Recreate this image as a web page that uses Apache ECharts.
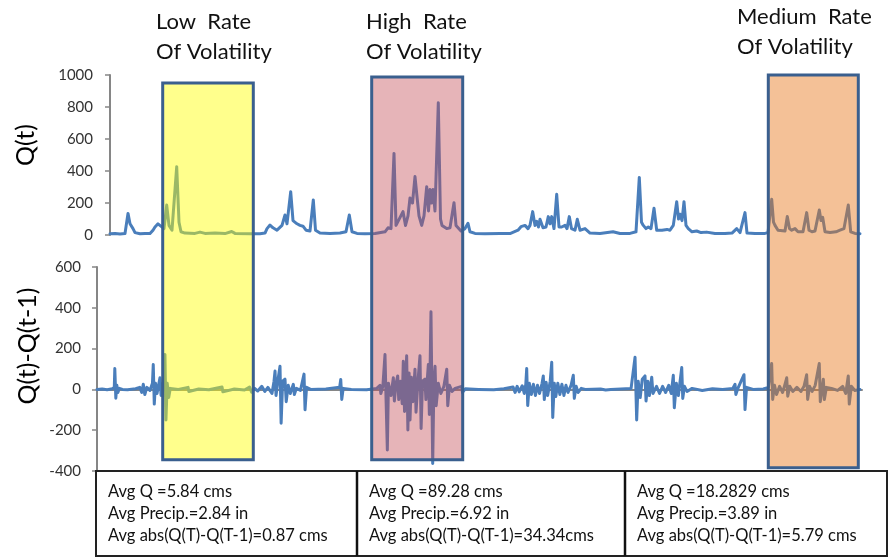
<!DOCTYPE html>
<html>
<head>
<meta charset="utf-8">
<script src="https://cdn.jsdelivr.net/npm/echarts@6/dist/echarts.min.js"></script>
<style>html,body{margin:0;padding:0;background:#fff;}#c{width:891px;height:558px;}</style>
</head>
<body>
<div id="c"></div>
<script>
// Q(t) series: [time, value]
const qSeries = [
[0,8],[5,10],[10,6],[15,9],[16,12],[18,135],[20,70],[23,40],[25,15],[30,8],[35,10],[40,9],
[43,30],[45,50],[48,70],[50,60],[54,40],[56.7,187],[59,60],[62,30],[64,40],[66.7,427],[69,80],[71,20],
[75,12],[85,10],[90,18],[95,10],[105,12],[115,9],[121.7,22],[125,10],[140,8],[150,8],[155,12],
[157,40],[160,62],[163,45],[167,30],[172,60],[175,125],[177,70],[180.7,271],[183,90],[187,70],[190,60],
[193,55],[196,30],[200,25],[203.3,219],[205.5,30],[210,12],[220,10],[230,12],[236,20],[239.3,125],[242,20],
[247,10],[255,8],[265,10],[275,20],[278,45],[281,40],[284,510],[286,60],[288,70],[293,146],[295.5,60],
[298,120],[300,231],[302.5,200],[305,365],[307,240],[309,120],[311.7,60],[314,120],[316.7,302],[318.5,150],
[320,285],[321.5,200],[323,285],[325,150],[328.3,827],[330.5,100],[332,60],[336.7,40],[340,45],[344,202],
[346,60],[348,50],[351,25],[355,40],[358,73],[360,20],[365,10],[375,8],[390,10],[400,9],
[408,30],[411,52],[415,60],[418,40],[420,60],[422.7,146],[425,60],[426.7,85],[428.5,50],[430,98],[433,45],
[436,50],[438.3,115],[440,70],[441.7,115],[444,40],[446.7,254],[449,50],[451.7,50],[455,60],[457,40],
[459.3,115],[461.5,40],[465,30],[467.3,98],[470,30],[475,40],[480,12],[490,10],[503,20],[510,9],[520,10],
[526,20],[529.3,360],[531.5,80],[533.3,60],[536,40],[538.3,50],[541,40],[544,167],[546.7,30],[552,30],
[557,35],[560,30],[563.3,60],[566.7,208],[568.5,100],[570,130],[572,90],[574,208],[576,60],[578.3,40],
[582,20],[586.7,25],[591,15],[596.7,18],[605,10],[615,9],[622,12],[626.7,40],[630,15],[635,140],[637,12],
[645,9],[655,10],[658,15],[661.7,223],[663.5,80],[665,60],[668,30],[670,20],[675,25],[677.3,115],[679.5,40],
[681.7,30],[685,40],[688,20],[693,20],[696.7,140],[699,30],[702,20],[705,25],[709.3,156],[711,90],[712.7,110],
[715,20],[720,15],[726,20],[730,30],[734,40],[738.3,187],[740.7,20],[745,10],[750,8]
];
// Q(t)-Q(t-1) series: [time, value]
const dSeries = [
[0,0],[5,2],[10,-2],[15,3],[17,10],[17.5,102],[18.5,-43],[19.5,20],[20.5,-15],[22,5],[25,0],[30,-2],[38,3],
[42,10],[44,-15],[45.5,25],[47,-25],[49,10],[52,-5],[54.5,30],[55.3,122],[56.3,-72],[57.5,30],[59,-20],
[61.9,57],[63,-30],[65.5,40],[66.8,171],[67.8,-150],[69,30],[70.5,-40],[72,5],[80,0],[89.5,10],[90.3,-10],
[100,2],[110,-2],[122.9,12],[123.7,-12],[135,2],[145,-3],[150,12],[152,-14],[155,5],[158,-8],[162,15],
[165,-10],[168,10],[172,-20],[174,40],[175,90],[176,-30],[178,50],[179.9,113],[181,-166],[182.5,40],
[184.8,50],[186,-60],[188,20],[190,-20],[193,25],[194,-25],[196,5],[200,-5],[203.5,75],[204.5,-100],
[206,10],[210,0],[225,2],[238.5,10],[239.6,49],[240.6,-49],[242,5],[250,0],[265,-2],[275,5],[278.2,20],
[279,-20],[281,15],[283.1,171],[284.2,-60],[285.4,-297],[286.5,30],[289,-30],[291.3,57],[292.3,-57],
[294,30],[295.6,66],[296.6,-50],[298.5,40],[300,-70],[301.1,138],[302.3,-108],[304.4,165],[305.6,-199],
[306.8,80],[307.7,-150],[309,60],[310.5,-60],[312.6,99],[313.6,-112],[315.5,40],[317.5,165],[318.6,-192],
[320,40],[322.4,50],[323.3,-50],[325.7,122],[326.7,-123],[328.3,381],[330,-363],[331.2,40],[332.3,113],
[333.4,-80],[335.5,30],[338,-20],[341,15],[343.8,99],[344.8,-80],[346.5,20],[349,-10],[352,5],[358.5,15],
[359.3,-15],[362,3],[375,0],[390,-2],[400,3],[409,12],[411,-15],[413,15],[415,-12],[418,18],[420,-20],
[421.5,25],[422.4,102],[423.4,-79],[425,30],[427,-25],[429,25],[431,-30],[433,20],[435,-20],[437.5,30],
[438.7,66],[439.7,-50],[441.5,35],[443,-30],[445.5,40],[447,133],[448,-138],[449.5,30],[451,-35],[453,30],
[455,-25],[457,25],[459,-30],[461,20],[463,-15],[466,20],[468.2,69],[469.2,-44],[471,15],[473,-15],[476,5],
[480,0],[495,2],[500,-3],[505,0],[515,2],[525,5],[528.9,158],[530.5,-150],[532,40],[534,-40],[536,50],
[538.7,66],[539.7,-57],[541.5,40],[543,-30],[545.3,60],[546.5,-20],[550,15],[553,-20],[556,15],[559,-15],
[562,20],[564.5,-20],[566.5,69],[567.5,-90],[569.5,30],[571.5,-30],[574.8,107],[575.8,-44],[577.5,15],
[580,-10],[585,5],[595,-5],[605,3],[615,0],[625,5],[627.2,25],[628,-25],[630,5],[636,72],[637,-99],
[638.5,10],[645,0],[655,2],[660,10],[663.2,127],[664.2,-49],[666,20],[668,-25],[671,15],[674,-15],[676,20],
[678,57],[679,-33],[681,15],[684,-10],[688,10],[692,-10],[695,15],[697.6,72],[698.6,-49],[700.5,15],
[703,-10],[706,20],[710,127],[711,-60],[714,50],[715,-50],[717,10],[722,5],[728,-5],[733,15],[736,-20],
[738.5,66],[739.5,-72],[741.5,15],[745,-5],[750,0]
];
const qTicks = [0, 200, 400, 600, 800, 1000];
const dTicks = [-400, -200, 0, 200, 400, 600];
// Highlighted periods: time range, top (Q scale), bottom (diff scale)
const periodNames = ['Low', 'High', 'Medium'];
const periodStart = [52.7, 261.7, 658.3];
const periodEnd = [143.3, 352.7, 748.3];
const periodTopQ = [950, 987, 1000];
const periodBottomD = [-345, -345, -384];
const periodFill = ['rgba(255,255,0,0.45)', 'rgba(194,74,82,0.41)', 'rgba(231,118,24,0.45)'];
const titleLines = [['Low  Rate', 'Of Volatility'], ['High  Rate', 'Of Volatility'], ['Medium  Rate', 'Of Volatility']];
const statLines = [
  ['Avg Q =5.84 cms', 'Avg Precip.=2.84 in', 'Avg abs(Q(T)-Q(T-1)=0.87 cms'],
  ['Avg Q =89.28 cms', 'Avg Precip.=6.92 in', 'Avg abs(Q(T)-Q(T-1)=34.34cms'],
  ['Avg Q =18.2829 cms', 'Avg Precip.=3.89 in', 'Avg abs(Q(T)-Q(T-1)=5.79 cms']
];

const FONT = 'Lato';
const axisLine = {show: true, lineStyle: {color: '#868686', width: 2}};
const chart = echarts.init(document.getElementById('c'));
chart.setOption({
  animation: false,
  grid: [
    {left: 110, right: 29, top: 75, height: 160},
    {left: 97, right: 29, top: 267, height: 204}
  ],
  xAxis: [
    {gridIndex: 0, type: 'value', min: 0, max: 752, show: false},
    {gridIndex: 1, type: 'value', min: 0, max: 752, axisLine: axisLine, axisTick: {show: false}, axisLabel: {show: false}, splitLine: {show: false}}
  ],
  yAxis: [
    {gridIndex: 0, type: 'value', min: qTicks[0], max: qTicks[qTicks.length-1], interval: 200,
     axisLine: axisLine, axisTick: {show: true, length: 5, lineStyle: {color: '#868686', width: 1.5}},
     axisLabel: {fontFamily: FONT, fontSize: 15, color: '#333', margin: 17, formatter: v => String(v)}, splitLine: {show: false}},
    {gridIndex: 1, type: 'value', min: dTicks[0], max: dTicks[dTicks.length-1], interval: 200,
     axisLine: axisLine, axisTick: {show: true, length: 5, lineStyle: {color: '#868686', width: 1.5}},
     axisLabel: {fontFamily: FONT, fontSize: 15, color: '#333', margin: 16, formatter: v => String(v)}, splitLine: {show: false}}
  ],
  series: [
    {type: 'line', xAxisIndex: 0, yAxisIndex: 0, data: qSeries, showSymbol: false, symbol: 'none',
     lineStyle: {color: '#4A7EBB', width: 3, join: 'round', cap: 'round'}, z: 2},
    {type: 'line', xAxisIndex: 1, yAxisIndex: 1, data: dSeries, showSymbol: false, symbol: 'none',
     lineStyle: {color: '#4A7EBB', width: 3, join: 'round', cap: 'round'}, z: 2}
  ]
});

const g = [];
for (let i = 0; i < periodNames.length; i++) {
  const p0 = chart.convertToPixel({gridIndex: 0}, [periodStart[i], periodTopQ[i]]);
  const p1 = chart.convertToPixel({gridIndex: 0}, [periodEnd[i], periodTopQ[i]]);
  const yb = chart.convertToPixel({gridIndex: 1}, [0, periodBottomD[i]])[1];
  g.push({type: 'rect', z: 100, shape: {x: p0[0], y: p0[1], width: p1[0] - p0[0], height: yb - p0[1]},
    style: {fill: periodFill[i], stroke: '#3A5F8E', lineWidth: 3}});
}
// titles
const titlePos = [[156, 22], [366, 22], [737, 17]];
titleLines.forEach((lines, i) => {
  lines.forEach((t, j) => {
    g.push({type: 'text', z: 110, x: titlePos[i][0], y: titlePos[i][1] + j * 30,
      style: {text: t, font: '22px ' + FONT, fill: '#111', textAlign: 'left', textVerticalAlign: 'middle'}});
  });
});
// axis names
g.push({type: 'text', z: 110, x: 26, y: 145, rotation: Math.PI / 2,
  style: {text: 'Q(t)', font: '25px ' + FONT, fill: '#000', textAlign: 'center', textVerticalAlign: 'middle'}});
g.push({type: 'text', z: 110, x: 28, y: 346, rotation: Math.PI / 2,
  style: {text: 'Q(t)-Q(t-1)', font: '25px ' + FONT, fill: '#000', textAlign: 'center', textVerticalAlign: 'middle'}});
// stats table
const colX = [96, 357, 625, 887];
g.push({type: 'rect', z: 110, shape: {x: colX[0], y: 471, width: colX[3] - colX[0], height: 85},
  style: {fill: 'none', stroke: '#222', lineWidth: 2}});
[1, 2].forEach(k => g.push({type: 'line', z: 110, shape: {x1: colX[k], y1: 471, x2: colX[k], y2: 556},
  style: {stroke: '#111', lineWidth: 2.5}}));
statLines.forEach((lines, i) => {
  lines.forEach((t, j) => {
    g.push({type: 'text', z: 110, x: colX[i] + 12, y: 492 + j * 22,
      style: {text: t, font: '16.5px ' + FONT, fill: '#111', textAlign: 'left', textVerticalAlign: 'middle'}});
  });
});
chart.setOption({graphic: {elements: g}});
</script>
</body>
</html>
